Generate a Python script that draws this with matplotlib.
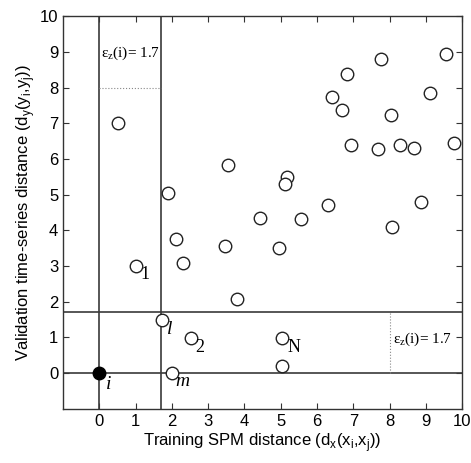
import matplotlib.pyplot as plt

plt.rcParams['font.family'] = 'Liberation Sans'

# Open circles: (training distance, validation distance)
x_open = [0.5, 1.9, 2.1, 2.3, 1.0, 3.45, 3.55, 3.8, 4.43, 4.95, 5.17, 5.13,
          5.56, 6.3, 6.41, 6.7, 6.82, 6.93, 7.69, 7.76, 8.04, 8.07, 8.29,
          8.67, 8.86, 9.13, 9.57, 9.77, 1.72, 2.52, 2.01, 5.03, 5.03]
y_open = [7.0, 5.04, 3.76, 3.09, 3.0, 3.56, 5.83, 2.07, 4.35, 3.5, 5.5, 5.31,
          4.33, 4.7, 7.75, 7.37, 8.37, 6.4, 6.28, 8.8, 7.22, 4.09, 6.4,
          6.3, 4.79, 7.86, 8.93, 6.46, 1.48, 0.99, 0.0, 0.99, 0.2]
x_ref = [0.0]
y_ref = [0.0]
eps = 1.7

fig = plt.figure(figsize=(4.71, 4.63), dpi=100)
ax = fig.add_axes([0.134, 0.117, 0.847, 0.848])

lc = '#3a3a3a'
ax.axvline(0, color=lc, lw=1.2)
ax.axvline(eps, color=lc, lw=1.2)
ax.axhline(0, color=lc, lw=1.2)
ax.axhline(eps, color=lc, lw=1.2)
ax.plot([0, eps], [8, 8], color='#888888', lw=0.8, ls=':')
ax.plot([8, 8], [0, eps], color='#888888', lw=0.8, ls=':')

ax.plot(x_open, y_open, 'o', ms=9, mfc='white', mec='#222222', mew=1.0, ls='none')
ax.plot(x_ref, y_ref, 'o', ms=9, mfc='black', mec='black', ls='none')

serif = 'Liberation Serif'
ax.text(0.05, 8.85, r'$\mathregular{\varepsilon_z}$(i)= 1.7', family=serif, fontsize=11)
ax.text(8.1, 0.85, r'$\mathregular{\varepsilon_z}$(i)= 1.7', family=serif, fontsize=11)
ax.text(1.12, 2.65, '1', family=serif, fontsize=13)
ax.text(1.85, 1.1, 'l', family=serif, style='italic', fontsize=14)
ax.text(2.65, 0.6, '2', family=serif, fontsize=13)
ax.text(5.2, 0.6, 'N', family=serif, fontsize=13)
ax.text(2.1, -0.35, 'm', family=serif, style='italic', fontsize=14)
ax.text(0.18, -0.45, 'i', family=serif, style='italic', fontsize=14)

ax.set_xlim(-1, 10)
ax.set_ylim(-1, 10)
ax.set_xticks(range(0, 11))
ax.set_yticks(range(0, 11))
ax.tick_params(direction='in', top=True, right=True, labelsize=12, length=4, color='#333333')
for s in ax.spines.values():
    s.set_color('#333333')
    s.set_linewidth(1.0)

ax.set_xlabel(r'Training SPM distance (d$_\mathregular{x}$(x$_\mathregular{i}$,x$_\mathregular{j}$))', fontsize=12, labelpad=2)
ax.set_ylabel(r'Validation time-series distance (d$_\mathregular{y}$(y$_\mathregular{i}$,y$_\mathregular{j}$))', fontsize=12, labelpad=2)

fig.savefig('out.png', dpi=100)
